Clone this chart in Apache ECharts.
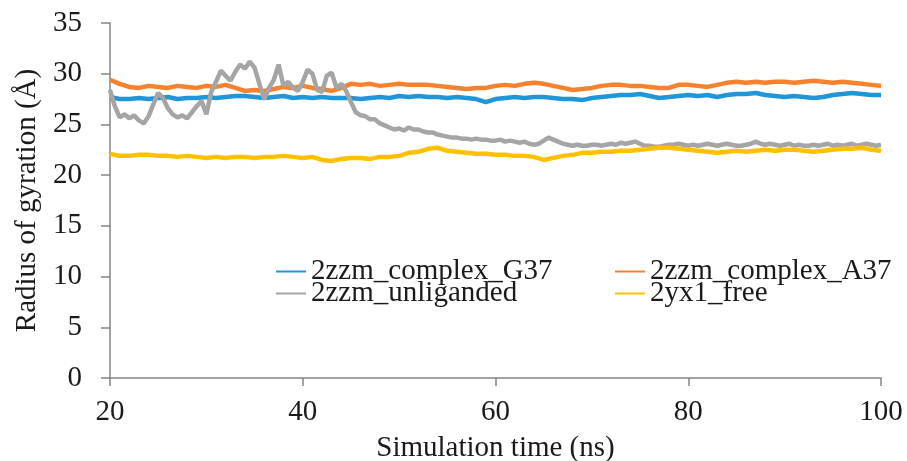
<!DOCTYPE html>
<html>
<head>
<meta charset="utf-8">
<script src="https://cdn.jsdelivr.net/npm/echarts@6/dist/echarts.min.js"></script>
<style>
  html, body { margin: 0; padding: 0; background: #fff; }
  #chart { width: 907px; height: 461px; }
</style>
</head>
<body>
<div id="chart"></div>
<script>
// time axis (ns): samples start at 20 ns
const startTime = 20;
const coarseStep = 1;   // G37, A37, free
const fineStep = 0.5;   // unliganded

const seriesNames = ["2zzm_complex_G37", "2zzm_complex_A37", "2zzm_unliganded", "2yx1_free"];

// Radius of gyration (Å), one value per ns from 20 to 100
const g37 = [
  27.7, 27.5, 27.5, 27.6, 27.5, 27.6, 27.7, 27.5, 27.6, 27.6,
  27.7, 27.6, 27.7, 27.8, 27.8, 27.7, 27.6, 27.7, 27.8, 27.6,
  27.7, 27.6, 27.7, 27.6, 27.6, 27.6, 27.5, 27.6, 27.7, 27.6,
  27.8, 27.7, 27.8, 27.7, 27.7, 27.6, 27.7, 27.6, 27.5, 27.2,
  27.5, 27.6, 27.7, 27.6, 27.7, 27.7, 27.6, 27.5, 27.5, 27.4,
  27.6, 27.7, 27.8, 27.9, 27.9, 28.0, 27.8, 27.6, 27.7, 27.8,
  27.9, 27.8, 27.9, 27.7, 27.9, 28.0, 28.0, 28.1, 27.9, 27.8,
  27.7, 27.8, 27.7, 27.6, 27.7, 27.9, 28.0, 28.1, 28.0, 27.9,
  27.9
];
const a37 = [
  29.4, 29.0, 28.7, 28.6, 28.8, 28.7, 28.6, 28.8, 28.7, 28.6,
  28.8, 28.7, 28.9, 28.6, 28.3, 28.4, 28.3, 28.5, 28.7, 28.6,
  28.8, 28.6, 28.5, 28.3, 28.6, 29.0, 28.9, 29.0, 28.8, 28.9,
  29.0, 28.9, 28.9, 28.9, 28.8, 28.7, 28.6, 28.5, 28.6, 28.6,
  28.8, 28.9, 28.8, 29.0, 29.1, 29.0, 28.8, 28.6, 28.4, 28.5,
  28.6, 28.8, 28.9, 28.9, 28.8, 28.8, 28.7, 28.6, 28.6, 28.9,
  28.9, 28.8, 28.7, 28.9, 29.1, 29.2, 29.1, 29.2, 29.1, 29.2,
  29.2, 29.1, 29.2, 29.3, 29.2, 29.1, 29.2, 29.1, 29.0, 28.9,
  28.8
];
const free = [
  22.1, 21.9, 21.9, 22.0, 22.0, 21.9, 21.9, 21.8, 21.9, 21.8,
  21.7, 21.8, 21.7, 21.8, 21.8, 21.7, 21.8, 21.8, 21.9, 21.8,
  21.7, 21.8, 21.5, 21.4, 21.6, 21.7, 21.7, 21.6, 21.8, 21.8,
  21.9, 22.2, 22.3, 22.6, 22.7, 22.4, 22.3, 22.2, 22.1, 22.1,
  22.0, 22.0, 21.9, 21.9, 21.8, 21.5, 21.7, 21.9, 22.0, 22.2,
  22.2, 22.3, 22.3, 22.4, 22.4, 22.5, 22.6, 22.7, 22.7, 22.6,
  22.5, 22.4, 22.3, 22.2, 22.3, 22.4, 22.3, 22.4, 22.5, 22.4,
  22.5, 22.5, 22.4, 22.3, 22.4, 22.5, 22.6, 22.6, 22.7, 22.5,
  22.4
];
// one value per 0.5 ns from 20 to 100
const unliganded = [
  28.4, 26.8, 25.7, 26.0, 25.6, 25.9, 25.4, 25.1, 25.8, 27.0,
  28.1, 27.6, 26.6, 26.0, 25.7, 25.9, 25.6, 26.2, 26.8, 27.3,
  26.0, 28.2, 29.2, 30.3, 29.8, 29.3, 30.2, 30.9, 30.5, 31.2,
  30.6, 29.0, 27.5, 28.6, 29.4, 30.9, 28.8, 29.2, 28.6, 28.3,
  29.2, 30.4, 30.0, 28.4, 28.2, 29.8, 30.1, 28.6, 29.0, 28.3,
  27.2, 26.2, 25.9, 25.8, 25.5, 25.5, 25.1, 24.9, 24.7, 24.5,
  24.6, 24.4, 24.7, 24.5, 24.5, 24.3, 24.2, 24.2, 24.0, 23.9,
  23.8, 23.7, 23.7, 23.6, 23.6, 23.5, 23.6, 23.5, 23.5, 23.4,
  23.4, 23.5, 23.3, 23.4, 23.3, 23.2, 23.3, 23.1, 23.0, 23.1,
  23.4, 23.7, 23.5, 23.3, 23.1, 23.0, 22.9, 23.0, 22.9, 22.9,
  23.0, 23.0, 22.9, 23.0, 23.1, 23.0, 23.2, 23.1, 23.2, 23.3,
  23.1, 22.9, 22.9, 22.8, 22.8, 22.9, 23.0, 23.0, 23.1, 23.0,
  22.9, 23.0, 22.9, 23.0, 23.1, 23.0, 22.9, 23.0, 23.1, 23.0,
  22.9, 22.9, 23.0, 23.1, 23.3, 23.1, 23.0, 23.1, 23.0, 22.9,
  23.0, 23.1, 22.9, 23.0, 22.9, 22.9, 23.0, 22.9, 23.0, 23.1,
  22.9, 23.0, 22.9, 23.0, 23.1, 22.9, 23.0, 23.1, 23.0, 22.9,
  23.0
];

const colors = ["#1f96d8", "#f7812d", "#a5a5a5", "#ffc000"];
const font = "Liberation Serif";
const textColor = "#1a1a1a";
const axisColor = "#858585";

function pairs(values, step) {
  return values.map((v, i) => [startTime + i * step, v]);
}

const chart = echarts.init(document.getElementById("chart"));

const lineSeries = (name, values, step, color) => ({
  name: name,
  type: "line",
  data: pairs(values, step),
  showSymbol: false,
  symbol: "none",
  lineStyle: { color: color, width: 4.5 },
  itemStyle: { color: color }
});

const legendText = { fontFamily: font, fontSize: 29, color: textColor, lineHeight: 24 };

chart.setOption({
  animation: false,
  color: colors,
  grid: { left: 110, right: 26, top: 23, bottom: 83, containLabel: false, outerBoundsMode: "none" },
  legend: [
    {
      orient: "vertical",
      left: 271,
      top: 252,
      itemGap: -7,
      itemWidth: 30,
      itemHeight: 2,
      icon: "rect",
      data: [seriesNames[0], seriesNames[2]],
      textStyle: legendText
    },
    {
      orient: "vertical",
      left: 610,
      top: 252,
      itemGap: -7,
      itemWidth: 30,
      itemHeight: 2,
      icon: "rect",
      data: [seriesNames[1], seriesNames[3]],
      textStyle: legendText
    }
  ],
  xAxis: {
    type: "value",
    min: 20,
    max: 100,
    interval: 20,
    name: "Simulation time (ns)",
    nameLocation: "middle",
    nameGap: 56,
    nameTextStyle: { fontFamily: font, fontSize: 29, color: textColor },
    axisLine: { lineStyle: { color: axisColor, width: 1.5 } },
    axisTick: { show: true, inside: false, length: 8, lineStyle: { color: axisColor, width: 1.5 } },
    axisLabel: { fontFamily: font, fontSize: 29, color: textColor, margin: 20 },
    splitLine: { show: false }
  },
  yAxis: {
    type: "value",
    min: 0,
    max: 35,
    interval: 5,
    name: "Radius of gyration (Å)",
    nameLocation: "middle",
    nameGap: 68,
    nameTextStyle: { fontFamily: font, fontSize: 29, color: textColor },
    axisLine: { show: true, lineStyle: { color: axisColor, width: 1.5 } },
    axisTick: { show: true, inside: false, length: 9, lineStyle: { color: axisColor, width: 1.5 } },
    axisLabel: { fontFamily: font, fontSize: 29, color: textColor, margin: 28 },
    splitLine: { show: false }
  },
  series: [
    lineSeries(seriesNames[0], g37, coarseStep, colors[0]),
    lineSeries(seriesNames[1], a37, coarseStep, colors[1]),
    lineSeries(seriesNames[2], unliganded, fineStep, colors[2]),
    lineSeries(seriesNames[3], free, coarseStep, colors[3])
  ]
});
</script>
</body>
</html>
